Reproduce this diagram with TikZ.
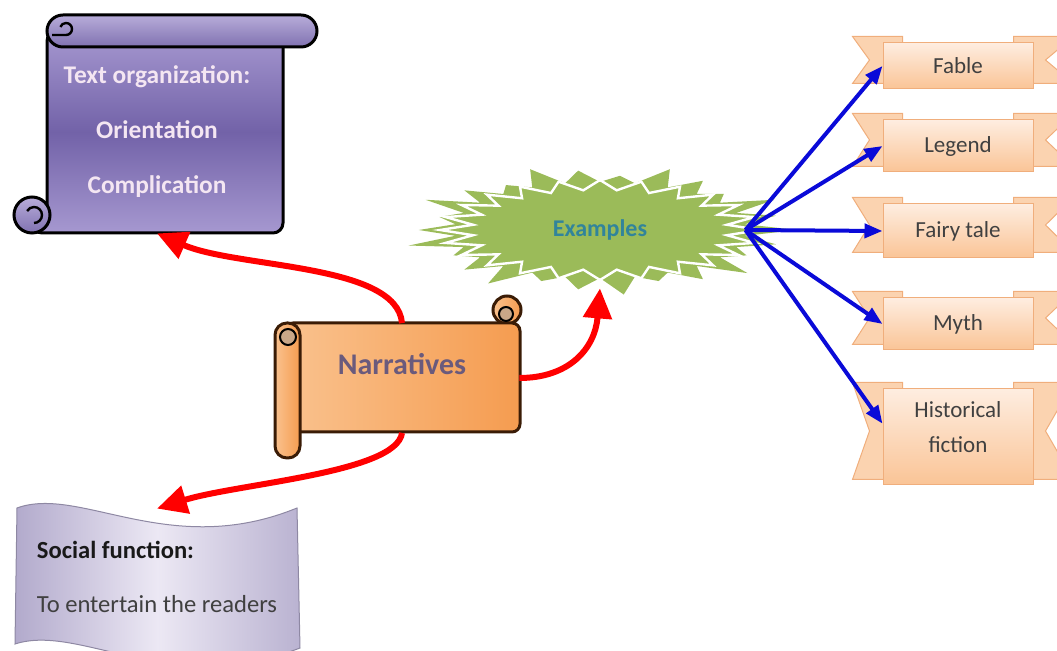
\documentclass[tikz,border=0pt]{standalone}
\usepackage{fontspec}
\setmainfont{Carlito}
\usepackage{xcolor}
\usetikzlibrary{positioning, arrows.meta, calc, backgrounds}

\definecolor{scrolllight}{HTML}{A698D0}
\definecolor{scrolldark}{HTML}{7262A8}
\definecolor{scrolltext}{HTML}{F4E6F2}
\definecolor{narlight}{HTML}{FAC28E}
\definecolor{narorange}{HTML}{F59C50}
\definecolor{narline}{HTML}{3A1C06}
\definecolor{nartext}{HTML}{6A5A7C}
\definecolor{burstgreen}{HTML}{9BBB59}
\definecolor{bursttext}{HTML}{31849B}
\definecolor{ribbonlight}{HTML}{FEEDE0}
\definecolor{ribbonmid}{HTML}{FAC496}
\definecolor{ribbonedge}{HTML}{F0AE7C}
\definecolor{wavelight}{HTML}{ECE8F4}
\definecolor{wavedark}{HTML}{B2AACC}
\definecolor{arrowblue}{HTML}{0A0AD8}

\tikzset{
  redarrow/.style={draw=red, line width=3pt, -{Triangle[length=15pt,width=14pt]}},
  bluearrow/.style={draw=arrowblue, line width=2pt, -{Triangle[length=9pt,width=7pt]}},
  scrollbody/.style={draw=black, line width=1.5pt, top color=scrolllight, bottom color=scrolllight, middle color=scrolldark},
  scrollroll/.style={draw=black, line width=1.5pt, top color=scrolllight!80!white, bottom color=scrolldark!90!white},
  narbody/.style={draw=narline, line width=1.5pt, left color=narlight, right color=narorange},
  ribbon/.style={rectangle, draw=ribbonedge, line width=0.5pt, top color=ribbonlight, bottom color=ribbonmid,
    minimum width=75pt, text=black!75, font=\fontsize{11.5}{13.5}\selectfont, align=center},
  tail/.style={fill=ribbonmid!75!white, draw=ribbonedge, line width=0.5pt},
}

\begin{document}
\begin{tikzpicture}[x=0.5pt, y=0.5pt]
    \useasboundingbox (0,0) rectangle (1057,-651);

    % text organization scroll
    \draw[scrollbody, rounded corners=5pt] (47,-31) -- (283,-31) -- (283,-233) -- (32,-233) -- (32,-215) -- (47,-215) -- cycle;
    \draw[scrollroll, rounded corners=8pt] (47,-15) rectangle (317,-47);
    \draw[line width=1.2pt] (52,-35) -- (66,-35) arc[start angle=-90, end angle=160, radius=6];
    \draw[scrollroll] (32,-215) circle (18);
    \draw[line width=1.2pt] (34,-223) arc[start angle=-90, end angle=150, radius=8];
    \node[text=scrolltext, font=\fontsize{12.7}{14}\selectfont\bfseries, align=center,
      minimum width=118pt, minimum height=101pt] (org) at (157,-132)
      {Text organization:\\[13.5pt] Orientation\\[13.5pt] Complication};

    % narratives scroll
    \draw[narbody] (507,-310) circle (14);
    \draw[narbody, rounded corners=4pt] (285,-323) rectangle (520,-432);
    \draw[narbody, rounded corners=6pt] (275,-323) rectangle (300,-458);
    \draw[line width=1pt, fill=narlight!60!gray] (288,-337) circle (8);
    \draw[line width=1pt, fill=narlight!60!gray] (506,-314) circle (7);
    \node[text=nartext, font=\fontsize{15}{17}\selectfont\bfseries, text depth=14pt,
      minimum width=117pt, minimum height=54.5pt] (nar) at (402,-378) {Narratives};

    % examples burst
    \fill[burstgreen] plot[samples at={0,...,51}, variable=\i]
      ({600+197*(0.74+(1-mod(\i,2))*(0.26-0.04*mod(\i,6)))*cos(\i*6.9231)},
       {-230-65*(0.74+(1-mod(\i,2))*(0.26-0.04*mod(\i,6)))*sin(\i*6.9231)}) -- cycle;
    \draw[white, line width=1.2pt] plot[samples at={0,...,47}, variable=\i]
      ({600+160*(0.8+0.2*(1-mod(\i,2)))*cos(\i*7.5)},
       {-230-50*(0.8+0.2*(1-mod(\i,2)))*sin(\i*7.5)}) -- cycle;
    \node[text=bursttext, font=\fontsize{12}{14}\selectfont\bfseries,
      minimum width=145pt, minimum height=58pt] (ex) at (600,-230) {Examples};

    % social function wave
    \draw[draw=wavedark!80!black, line width=0.5pt, left color=wavedark, right color=wavedark!90!white, middle color=wavelight]
      (17,-508) .. controls (80,-485) and (170,-560) .. (297,-508) -- (300,-648)
      .. controls (170,-698) and (80,-623) .. (15,-644) -- cycle;
    \node[align=left, font=\fontsize{12.3}{14}\selectfont, text=black!75,
      minimum width=141pt, minimum height=68pt] (soc) at (157,-577)
      {\textcolor{black!90}{\bfseries Social function:}\\[13pt] To entertain the readers};

    % ribbons
    \node[ribbon, minimum height=23pt] (fable) at (958,-66) {Fable};
    \node[ribbon, minimum height=26pt] (legend) at (958,-146) {Legend};
    \node[ribbon, minimum height=27pt] (fairy) at (958,-231) {Fairy tale};
    \node[ribbon, minimum height=26pt] (myth) at (958,-324) {Myth};
    \node[ribbon, minimum height=48pt, text depth=10pt] (hist) at (958,-437) {Historical\\[4pt]fiction};

    \begin{scope}[on background layer]
        \foreach \n in {fable,legend,fairy,myth,hist} {
            \draw[tail] ($(\n.north west)+(-30,6)$) -- ($(\n.north west)+(20,6)$) -- ($(\n.south west)+(20,6)$)
              -- ($(\n.south west)+(-30,6)$) -- ($(\n.west)+(-13,6)$) -- cycle;
            \draw[tail] ($(\n.north east)+(-20,6)$) -- ($(\n.north east)+(40,6)$) -- ($(\n.east)+(12,6)$)
              -- ($(\n.south east)+(40,6)$) -- ($(\n.south east)+(-20,6)$) -- cycle;
        }
    \end{scope}

    % arrows
    \draw[redarrow] (nar.north) .. controls +(-5,60) and +(80,-35) .. (org.south);
    \draw[redarrow] (nar.east) .. controls +(50,0) and +(-5,-60) .. (ex.south);
    \draw[redarrow] (nar.south) .. controls +(-5,-40) and +(80,25) .. (soc.north);
    \foreach \t in {fable.west, legend.west, fairy.west, myth.west, hist.170}
        \draw[bluearrow] (ex.east) -- (\t);
\end{tikzpicture}
\end{document}
